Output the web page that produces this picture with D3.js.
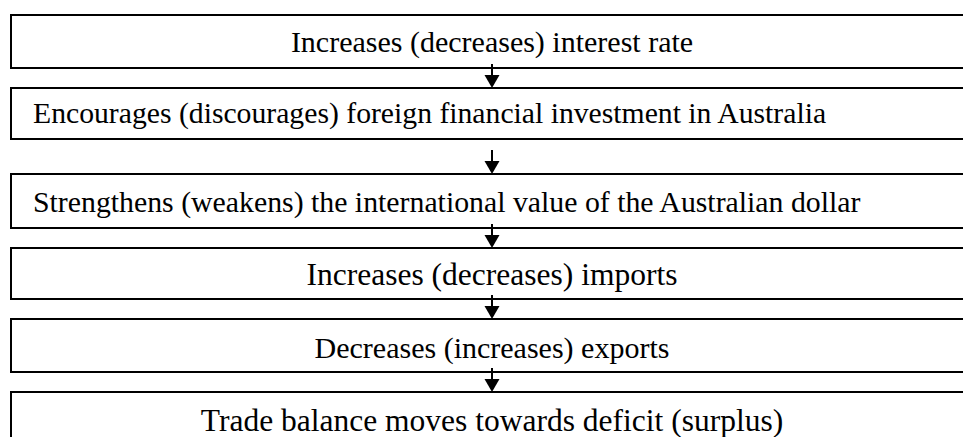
<!DOCTYPE html>
<html>
<head>
<meta charset="utf-8">
<script src="https://cdn.jsdelivr.net/npm/d3@7"></script>
<style>
  html, body { margin: 0; padding: 0; background: #fff; overflow: hidden; }
  svg { display: block; }
</style>
</head>
<body>
<svg id="chart" width="963" height="437"></svg>
<script>
// ---- data ----
const steps = [
  "Increases (decreases) interest rate",
  "Encourages (discourages) foreign financial investment in Australia",
  "Strengthens (weakens) the international value of the Australian dollar",
  "Increases (decreases) imports",
  "Decreases (increases) exports",
  "Trade balance moves towards deficit (surplus)"
];
const alignments = ["middle", "start", "start", "middle", "middle", "middle"];

// ---- layout ----
const W = 963, H = 437;
const boxTops = [15, 88, 174, 248, 319, 392];
const boxBottoms = [68, 139, 228, 299, 372, 455];
const fontSizes = [30, 29.7, 29.8, 31.5, 30, 31.5];
const baselineOffsets = [37, 35, 38, 37, 39, 39];
const boxLeft = 11, boxRight = 985, textLeft = 33;
const arrowX = 492, arrowLen = 24, headW = 15, headH = 13;

const svg = d3.select("#chart");
const idx = d3.range(steps.length);
const yTop = d3.scaleOrdinal().domain(idx).range(boxTops);
const yBot = d3.scaleOrdinal().domain(idx).range(boxBottoms);
const x = d3.scaleLinear().domain([0, 1]).range([boxLeft, boxRight]);

const g = svg.append("g");

// boxes
g.selectAll("rect.box").data(idx).join("rect")
  .attr("class", "box")
  .attr("x", x(0))
  .attr("y", d => yTop(d))
  .attr("width", x(1) - x(0))
  .attr("height", d => yBot(d) - yTop(d))
  .attr("fill", "#fff")
  .attr("stroke", "#000")
  .attr("stroke-width", 2);

// texts
g.selectAll("text.lbl").data(idx).join("text")
  .attr("class", "lbl")
  .attr("x", d => alignments[d] === "middle" ? arrowX : textLeft)
  .attr("y", d => yTop(d) + baselineOffsets[d])
  .attr("text-anchor", d => alignments[d])
  .attr("font-family", "'Liberation Serif', 'Times New Roman', serif")
  .attr("font-size", d => fontSizes[d])
  .attr("fill", "#000")
  .text(d => steps[d]);

// arrows between boxes
const arrows = idx.slice(1);
g.selectAll("line.arr").data(arrows).join("line")
  .attr("class", "arr")
  .attr("x1", arrowX).attr("x2", arrowX)
  .attr("y1", d => yTop(d) - arrowLen)
  .attr("y2", d => yTop(d) - headH + 1)
  .attr("stroke", "#000")
  .attr("stroke-width", 2);

g.selectAll("path.head").data(arrows).join("path")
  .attr("class", "head")
  .attr("d", d => {
    const t = yTop(d);
    return `M${arrowX - headW / 2},${t - headH}L${arrowX + headW / 2},${t - headH}L${arrowX},${t}Z`;
  })
  .attr("fill", "#000");
</script>
</body>
</html>
